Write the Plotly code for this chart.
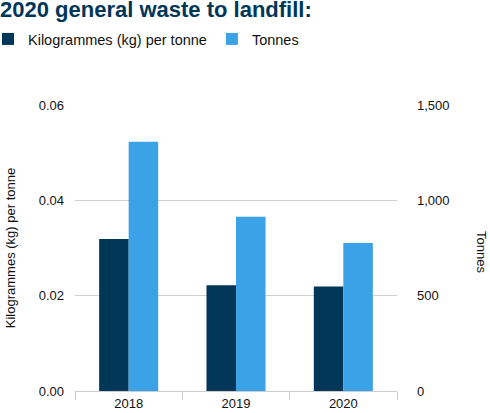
import plotly.graph_objects as go

years = ["2018", "2019", "2020"]
kg_per_tonne = [0.0319, 0.0222, 0.0219]
tonnes = [1307, 914, 776]

dark = "#003658"
light = "#3ba2e8"
font = "Liberation Sans, Arial, sans-serif"

fig = go.Figure()
fig.add_trace(go.Bar(x=years, y=kg_per_tonne, name="Kilogrammes (kg) per tonne",
                     marker=dict(color=dark, line=dict(width=0)), offsetgroup=0, yaxis="y"))
fig.add_trace(go.Bar(x=years, y=tonnes, name="Tonnes",
                     marker=dict(color=light, line=dict(width=0)), offsetgroup=1, yaxis="y2"))

fig.update_layout(
    width=490, height=413,
    margin=dict(l=75, r=93, t=105, b=22, autoexpand=False),
    paper_bgcolor="white", plot_bgcolor="white",
    font=dict(family=font, size=13, color="#111111"),
    barmode="group", bargap=0.45, bargroupgap=0,
    showlegend=True,
    legend=dict(orientation="h", xref="paper", yref="paper",
                x=-87 / 322, xanchor="left", y=(391 - 39) / 286, yanchor="middle",
                font=dict(size=14.5, color="#111111"), tracegroupgap=0,
                bgcolor="rgba(0,0,0,0)"),
    title=dict(text="<b>2020 general waste to landfill:</b>", x=0.0, xref="container",
               xanchor="left", y=0.995, yanchor="top", pad=dict(l=0, t=0),
               font=dict(family=font, size=22, color="#003658")),
    xaxis=dict(type="category", showgrid=False, showline=True, linecolor="#cccccc",
               ticks="outside", tickson="boundaries", ticklen=8, tickcolor="#cccccc",
               tickfont=dict(size=13, color="#111111"), automargin=False),
    yaxis=dict(range=[0, 0.06], tickvals=[0, 0.02, 0.04, 0.06],
               ticktext=["0.00", "0.02", "0.04", "0.06"],
               showgrid=True, gridcolor="#d0d0d0", zeroline=False, showline=False,
               ticks="", ticklabelstandoff=10, automargin=False,
               title=dict(text="Kilogrammes (kg) per tonne", font=dict(size=13), standoff=20)),
    yaxis2=dict(range=[0, 1500], tickvals=[0, 500, 1000, 1500],
                ticktext=["0", "500", "1,000", "1,500"],
                overlaying="y", side="right", showgrid=True, gridcolor="#d0d0d0",
                zeroline=False, showline=False, ticks="", ticklabelstandoff=19,
                automargin=False),
    annotations=[dict(text="Tonnes", textangle=90, xref="paper", yref="paper",
                      x=(482 - 75) / 322, y=0.486, xanchor="center", yanchor="middle",
                      showarrow=False, font=dict(size=13, color="#111111"))],
)

fig.write_html("out.html", config={"displayModeBar": False},
               post_script="document.body.style.margin='0';")
